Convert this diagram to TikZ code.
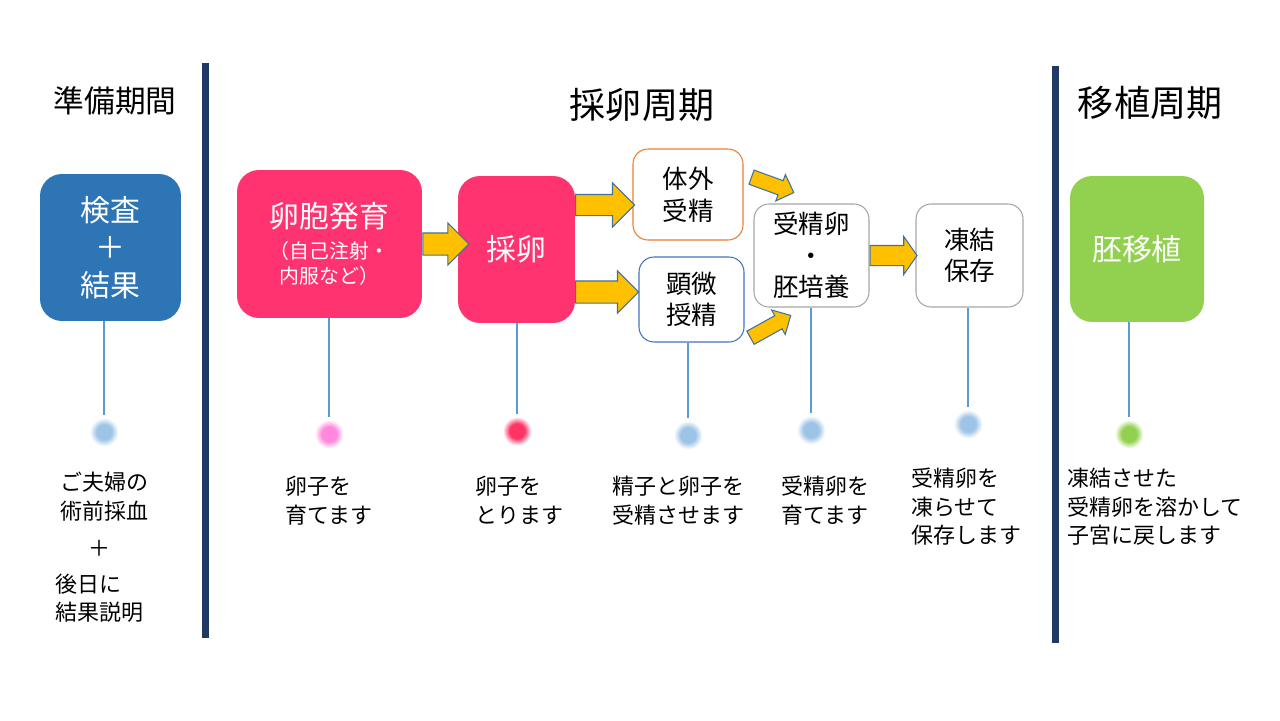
\documentclass[tikz,border=0pt]{standalone}
\usepackage{fontspec}
\setmainfont{Noto Sans CJK JP}
\usepackage{tikz}
\usetikzlibrary{shapes.arrows,calc}
\definecolor{examblue}{HTML}{2E75B6}
\definecolor{eggpink}{HTML}{FF3370}
\definecolor{embgreen}{HTML}{92D050}
\definecolor{barnavy}{HTML}{203864}
\definecolor{arrowgold}{HTML}{FFC000}
\definecolor{arrowedge}{HTML}{41719C}
\definecolor{ivforange}{HTML}{ED7D31}
\definecolor{icsiblue}{HTML}{4472C4}
\definecolor{boxgray}{HTML}{A6A6A6}
\definecolor{stemblue}{HTML}{5B9BD5}
\definecolor{dotblue}{HTML}{9DC3E6}
\definecolor{dotpink}{HTML}{FF88DC}
\definecolor{dotred}{HTML}{FF3366}
\colorlet{dotc}{white}
\pgfdeclareradialshading[dotc]{softdot}{\pgfpointorigin}{%
  color(0bp)=(dotc); color(11bp)=(dotc); color(21bp)=(white); color(25bp)=(white); color(50bp)=(white)}
\tikzset{
  filledbox/.style={
    rectangle, rounded corners=0.44cm, fill=#1, draw=none, text=white,
    align=center, inner sep=0pt,
    font=\fontsize{17pt}{21.5pt}\selectfont
  },
  filledbox/.default=eggpink,
  linebox/.style={
    rectangle, rounded corners=0.3cm, fill=white, draw=#1, line width=0.6pt,
    align=center, inner sep=0pt,
    font=\fontsize{14.5pt}{18pt}\selectfont
  },
  linebox/.default=boxgray,
  blockarrow/.style={
    single arrow, fill=arrowgold, draw=arrowedge, line width=0.6pt,
    inner xsep=0pt, anchor=tail
  },
  phasebar/.style={draw=barnavy, line width=0.14cm},
  stem/.style={draw=stemblue, line width=0.6pt},
  dotnode/.style={
    circle, inner sep=0pt, minimum size=0.68cm,
    /utils/exec={\colorlet{dotc}{#1}}, shade, shading=softdot
  },
  titlesm/.style={font=\fontsize{17.5pt}{21pt}\selectfont},
  titlelg/.style={font=\fontsize{20.5pt}{24pt}\selectfont},
  note/.style={
    anchor=north west, align=left, inner sep=0pt,
    font=\fontsize{12.5pt}{16.2pt}\selectfont
  },
}
\begin{document}
\begin{tikzpicture}[x=0.02cm, y=-0.02cm]
  \useasboundingbox[fill=white] (0,0) rectangle (1280,720);

  % Phase titles
  \node[titlesm] (tprep) at (115,101) {準備期間};
  \node[titlelg] (tret) at (642,105) {採卵周期};
  \node[titlelg] (ttrans) at (1150,103) {移植周期};

  % Phase separators
  \coordinate (sepAtop) at (205,63);
  \coordinate (sepAbot) at (205,638);
  \coordinate (sepBtop) at (1055,66);
  \coordinate (sepBbot) at (1055,643);
  \draw[phasebar] (sepAtop) -- (sepAbot);
  \draw[phasebar] (sepBtop) -- (sepBbot);

  % Step boxes
  \node[filledbox=examblue, minimum width=2.82cm, minimum height=2.94cm] (exam)
    at (110.5,247.5) {検査\\＋\\結果};
  \node[filledbox, minimum width=3.7cm, minimum height=2.96cm] (ovgrow)
    at (329.5,244) {卵胞発育\\[-4pt]{\fontsize{11.3pt}{13.6pt}\selectfont （自己注射・}\\[-7.5pt]{\fontsize{11.3pt}{13.6pt}\selectfont 内服など）}};
  \node[filledbox, minimum width=2.34cm, minimum height=2.94cm] (retr)
    at (516.5,249.5) {採卵};
  \node[linebox=ivforange, minimum width=2.2cm, minimum height=1.82cm] (ivf)
    at (688,194.5) {体外\\受精};
  \node[linebox=icsiblue, minimum width=2.1cm, minimum height=1.7cm] (icsi)
    at (691.5,299.5) {顕微\\授精};
  \node[linebox, minimum width=2.3cm, minimum height=2.06cm] (cult)
    at (811.5,255.5) {受精卵\\・\\胚培養};
  \node[linebox, minimum width=2.14cm, minimum height=2.06cm] (frz)
    at (969.5,255.5) {凍結\\保存};
  \node[filledbox=embgreen, minimum width=2.68cm, minimum height=2.92cm] (trans)
    at (1137,249) {胚移植};

  % Block arrows
  \node[blockarrow, minimum height=0.92cm, inner ysep=0.21cm,
        single arrow head extend=0.2cm] (ar1) at (ovgrow.east) {};
  \node[blockarrow, minimum height=1.18cm, inner ysep=0.2cm,
        single arrow head extend=0.23cm] (ar2) at (575,205) {};
  \node[blockarrow, minimum height=1.26cm, inner ysep=0.21cm,
        single arrow head extend=0.2cm] (ar3) at (575,292) {};
  \node[blockarrow, minimum height=0.9cm, inner ysep=0.14cm,
        single arrow head extend=0.13cm, rotate=-20] (ar4) at (751,177) {};
  \node[blockarrow, minimum height=0.92cm, inner ysep=0.14cm,
        single arrow head extend=0.13cm, rotate=29] (ar5) at (750,338) {};
  \node[blockarrow, minimum height=0.94cm, inner ysep=0.19cm,
        single arrow head extend=0.18cm, single arrow tip angle=110] (ar6) at (cult.east) {};

  % Markers
  \node[dotnode=dotblue] (dexam) at (104,432) {};
  \node[dotnode=dotpink] (dovgrow) at (329,434) {};
  \node[dotnode=dotred] (dretr) at (517,431) {};
  \node[dotnode=dotblue] (dicsi) at (688,435) {};
  \node[dotnode=dotblue] (dcult) at (811,430) {};
  \node[dotnode=dotblue] (dfrz) at (968,424) {};
  \node[dotnode=embgreen] (dtrans) at (1129,434) {};

  \draw[stem] (exam.south -| dexam) -- (dexam);
  \draw[stem] (ovgrow.south -| dovgrow) -- (dovgrow);
  \draw[stem] (retr.south -| dretr) -- (dretr);
  \draw[stem] (icsi.south -| dicsi) -- (dicsi);
  \draw[stem] (cult.south -| dcult) -- (dcult);
  \draw[stem] (frz.south -| dfrz) -- (dfrz);
  \draw[stem] (trans.south -| dtrans) -- (dtrans);

  % Notes
  \node[note] (nexam) at (60,472)
    {ご夫婦の\\術前採血\\[5pt]\hspace*{1.3em}＋\\[4pt]\hspace*{-0.1cm}後日に\\\hspace*{-0.1cm}結果説明};
  \node[note] (novgrow) at (285,476) {卵子を\\育てます};
  \node[note] (nretr) at (475,476) {卵子を\\とります};
  \node[note] (nicsi) at (612,476) {精子と卵子を\\受精させます};
  \node[note] (ncult) at (781,476) {受精卵を\\育てます};
  \node[note] (nfrz) at (911,468) {受精卵を\\凍らせて\\保存します};
  \node[note] (ntrans) at (1067,468) {凍結させた\\受精卵を溶かして\\子宮に戻します};
\end{tikzpicture}
\end{document}
